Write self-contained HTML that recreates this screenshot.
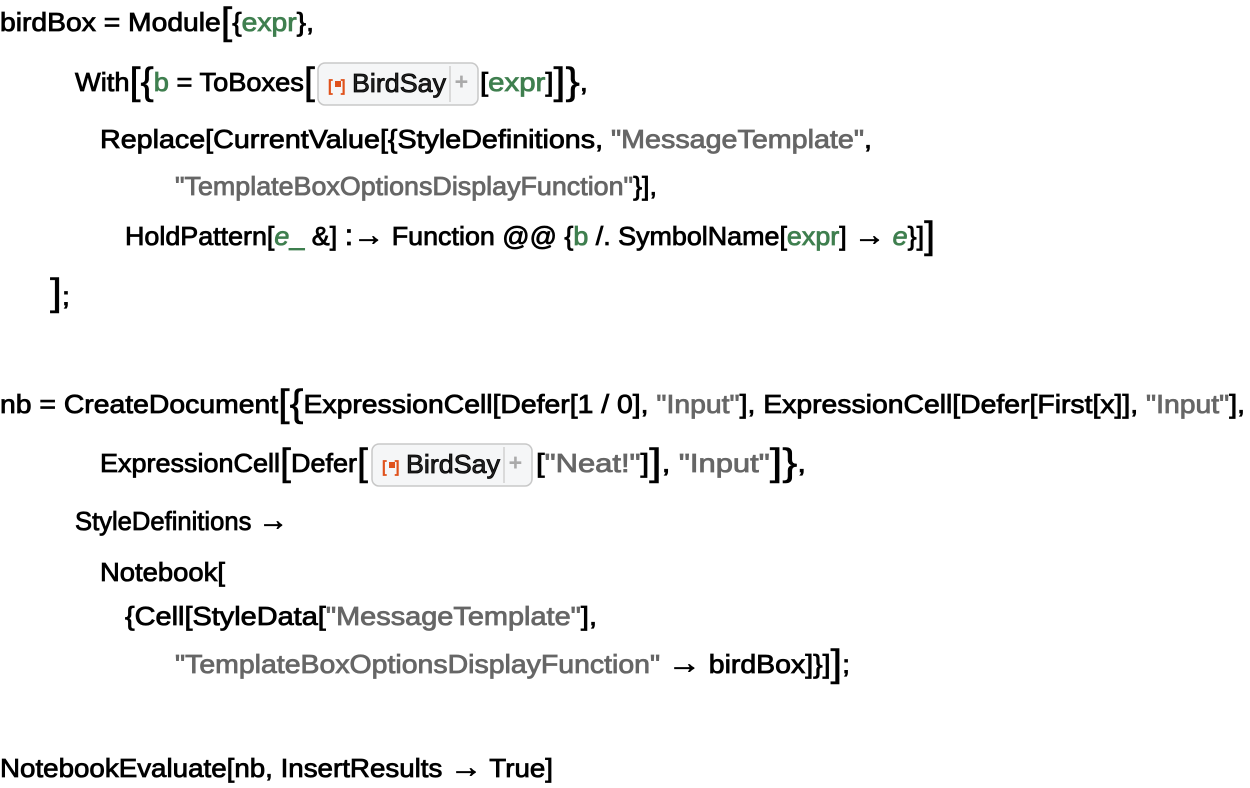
<!DOCTYPE html>
<html><head><meta charset="utf-8"><style>
html,body{margin:0;padding:0;background:#fff;width:1250px;height:788px;overflow:hidden}
svg text{font-family:"Liberation Sans",sans-serif;font-size:26px;fill:#000;stroke:#000;stroke-width:0.8}
.g{fill:#3f7f4f;stroke:#3f7f4f}
.s{fill:#666;stroke:#666}
.b{font-size:38px;stroke-width:0.5}
.i{font-style:italic}
.a{font-size:30px}
</style></head><body>
<svg width="1250" height="788" xmlns="http://www.w3.org/2000/svg">
<text x="0" y="31" textLength="314" lengthAdjust="spacingAndGlyphs">birdBox = Module<tspan class="b" dy="3">[</tspan><tspan dy="-3">{</tspan><tspan class="g">expr</tspan>},</text>

<text x="75" y="91" textLength="240" lengthAdjust="spacingAndGlyphs">With<tspan class="b" dy="3">[{</tspan><tspan dy="-3" class="g">b</tspan> = ToBoxes<tspan class="b" dy="3">[</tspan></text>
<rect x="318" y="63" width="160" height="42" rx="7" fill="#f5f6f7" stroke="#c8c8c8" stroke-width="1.5"/>
<line x1="450" y1="66" x2="450" y2="102" stroke="#d0d0d0" stroke-width="1.5"/>
<text x="328" y="91" style="font-size:16px;fill:#e0521c;stroke:#e0521c">[</text>
<rect x="335" y="81" width="6" height="6" fill="#e0521c"/>
<text x="341" y="91" style="font-size:16px;fill:#e0521c;stroke:#e0521c">]</text>
<text x="352" y="92" textLength="94" lengthAdjust="spacingAndGlyphs" style="fill:#222">BirdSay</text>
<text x="455" y="89" style="font-size:22px;fill:#aaa;stroke:#aaa;stroke-width:1">+</text>
<text x="480" y="91" textLength="108" lengthAdjust="spacingAndGlyphs">[<tspan class="g">expr</tspan>]<tspan class="b" dy="3">]}</tspan><tspan dy="-3">,</tspan></text>

<text x="100" y="148" textLength="772" lengthAdjust="spacingAndGlyphs">Replace[CurrentValue[{StyleDefinitions, <tspan class="s">"MessageTemplate"</tspan>,</text>
<text x="175" y="195" textLength="482" lengthAdjust="spacingAndGlyphs"><tspan class="s">"TemplateBoxOptionsDisplayFunction"</tspan>}],</text>
<text x="125" y="245" textLength="810" lengthAdjust="spacingAndGlyphs">HoldPattern[<tspan class="g i">e</tspan><tspan class="g">_</tspan> &amp;] <tspan class="a">:→</tspan> Function @@ {<tspan class="g">b</tspan> /. SymbolName[<tspan class="g">expr</tspan>] <tspan class="a">→</tspan> <tspan class="g i">e</tspan>}]<tspan class="b" dy="3">]</tspan></text>
<text x="50" y="305" textLength="20" lengthAdjust="spacingAndGlyphs"><tspan class="b">]</tspan>;</text>

<text x="0" y="413" textLength="1245" lengthAdjust="spacingAndGlyphs">nb = CreateDocument<tspan class="b" dy="3">[{</tspan><tspan dy="-3">ExpressionCell[Defer[1 / 0], </tspan><tspan class="s">"Input"</tspan>], ExpressionCell[Defer[First[x]], <tspan class="s">"Input"</tspan>],</text>

<text x="100" y="472" textLength="268" lengthAdjust="spacingAndGlyphs">ExpressionCell<tspan class="b" dy="3">[</tspan><tspan dy="-3">Defer</tspan><tspan class="b" dy="3">[</tspan></text>
<rect x="372" y="444" width="160" height="42" rx="7" fill="#f5f6f7" stroke="#c8c8c8" stroke-width="1.5"/>
<line x1="504" y1="447" x2="504" y2="483" stroke="#d0d0d0" stroke-width="1.5"/>
<text x="382" y="472" style="font-size:16px;fill:#e0521c;stroke:#e0521c">[</text>
<rect x="389" y="462" width="6" height="6" fill="#e0521c"/>
<text x="395" y="472" style="font-size:16px;fill:#e0521c;stroke:#e0521c">]</text>
<text x="406" y="473" textLength="94" lengthAdjust="spacingAndGlyphs" style="fill:#222">BirdSay</text>
<text x="509" y="470" style="font-size:22px;fill:#aaa;stroke:#aaa;stroke-width:1">+</text>
<text x="536" y="472" textLength="270" lengthAdjust="spacingAndGlyphs">[<tspan class="s">"Neat!"</tspan>]<tspan class="b" dy="3">]</tspan><tspan dy="-3">, </tspan><tspan class="s">"Input"</tspan><tspan class="b" dy="3">]}</tspan><tspan dy="-3">,</tspan></text>

<text x="75" y="530" textLength="213" lengthAdjust="spacingAndGlyphs">StyleDefinitions <tspan class="a">→</tspan></text>
<text x="100" y="581" textLength="125" lengthAdjust="spacingAndGlyphs">Notebook[</text>
<text x="125" y="625" textLength="472" lengthAdjust="spacingAndGlyphs">{Cell[StyleData[<tspan class="s">"MessageTemplate"</tspan>],</text>
<text x="175" y="673" textLength="675" lengthAdjust="spacingAndGlyphs"><tspan class="s">"TemplateBoxOptionsDisplayFunction"</tspan> <tspan class="a">→</tspan> birdBox]}]<tspan class="b" dy="3">]</tspan><tspan dy="-3">;</tspan></text>

<text x="0" y="777" textLength="553" lengthAdjust="spacingAndGlyphs">NotebookEvaluate[nb, InsertResults <tspan class="a">→</tspan> True]</text>
</svg>
</body></html>
